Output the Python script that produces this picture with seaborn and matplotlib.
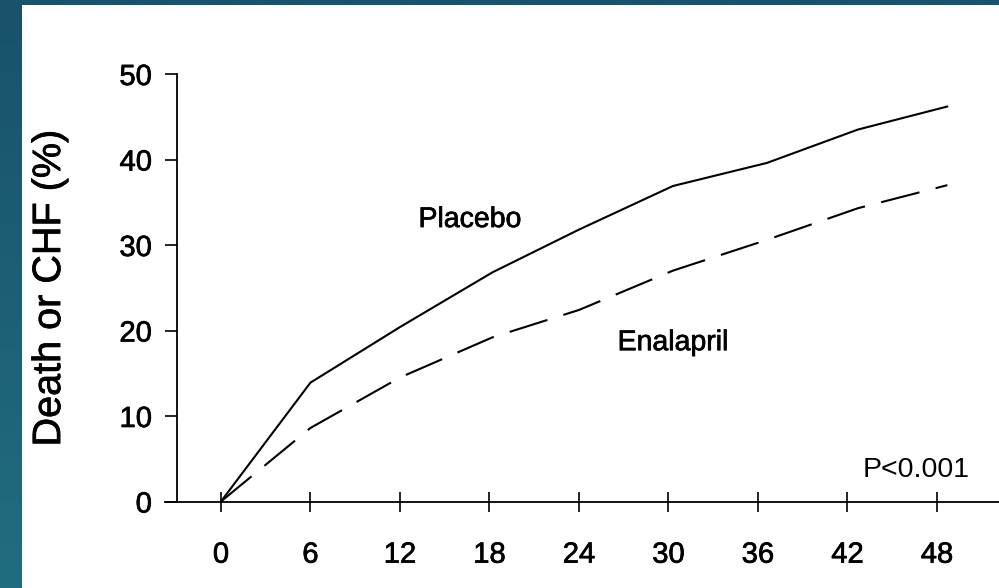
import numpy as np
import pandas as pd
import seaborn as sns
import matplotlib.pyplot as plt
import matplotlib.patheffects as pe
from matplotlib.patches import Rectangle
from matplotlib.colors import LinearSegmentedColormap

# ── Data ───────────────────────────────────────────────────────
months = [0, 6, 12, 18.2, 24, 30.3, 36.6, 42.7, 48.7]
placebo = [0, 13.9, 20.4, 26.8, 31.8, 36.9, 39.6, 43.5, 46.2]
enalapril = [0, 8.6, 14.5, 19.2, 22.4, 27.0, 30.6, 34.3, 37.0]
groups = ["Placebo", "Enalapril"]
x_ticks = [0, 6, 12, 18, 24, 30, 36, 42, 48]
y_ticks = [0, 10, 20, 30, 40, 50]

df = pd.DataFrame({
    "month": months * 2,
    "pct": placebo + enalapril,
    "group": [groups[0]] * len(months) + [groups[1]] * len(months),
})

sns.set_style("ticks")
plt.rcParams["font.family"] = ["Liberation Sans", "DejaVu Sans"]
plt.rcParams["text.color"] = "black"
plt.rcParams["axes.labelcolor"] = "black"

# slightly heavier text, like the scanned figure
heavy = [pe.withStroke(linewidth=0.5, foreground="black")]

fig = plt.figure(figsize=(9.99, 5.88), dpi=100)

# ── Teal slide border ──────────────────────────────────────────
bg = fig.add_axes([0, 0, 1, 1])
teal = LinearSegmentedColormap.from_list("teal", ["#19526a", "#216d80"])
bg.imshow(np.linspace(0, 1, 256).reshape(-1, 1), cmap=teal, aspect="auto",
          extent=[0, 1, 0, 1], origin="upper")
bg.add_patch(Rectangle((22 / 999, 0), 1, 1 - 5 / 588, color="white", lw=0))
bg.set_xlim(0, 1)
bg.set_ylim(0, 1)
bg.axis("off")

# ── Main chart ─────────────────────────────────────────────────
ax = fig.add_axes([165 / 999, 86.5 / 588, 834 / 999, 427.5 / 588])
ax.patch.set_alpha(0)
sns.lineplot(data=df, x="month", y="pct", style="group",
             dashes={"Placebo": "", "Enalapril": (19, 8)},
             color="black", linewidth=1.5, legend=False, ax=ax)
for ln in ax.lines:
    ln.set_clip_on(False)

ax.set_xlim(-3.75, 52.16)
ax.set_ylim(0, 50)
ax.set_xticks(x_ticks)
ax.set_yticks(y_ticks)
ax.spines["top"].set_visible(False)
ax.spines["right"].set_visible(False)
ax.spines["left"].set_position(("data", -2.95))
for s in ("left", "bottom"):
    ax.spines[s].set_linewidth(1.3)
    ax.spines[s].set_color("black")

ax.tick_params(axis="x", direction="inout", length=14.4, width=1.2,
               pad=21, labelsize=21, colors="black")
ax.tick_params(axis="y", direction="out", length=8.6, width=1.2,
               pad=9.5, labelsize=21, colors="black")
for lab in ax.get_xticklabels() + ax.get_yticklabels():
    lab.set_path_effects(heavy)

ax.set_xlabel("")
ax.set_ylabel("Death or CHF (%)", fontsize=28.5, va="center")
ax.yaxis.set_label_coords(-0.139, 0.4994)
ax.yaxis.label.set_path_effects(heavy)

ax.text(16.7, 32.1, "Placebo", fontsize=20.5, ha="center", va="baseline",
        path_effects=heavy)
ax.text(30.3, 17.7, "Enalapril", fontsize=20.5, ha="center", va="baseline",
        path_effects=heavy)
ax.text(46.6, 2.9, "P<0.001", fontsize=20.5, ha="center", va="baseline")

fig.savefig("out.png", dpi=100)
